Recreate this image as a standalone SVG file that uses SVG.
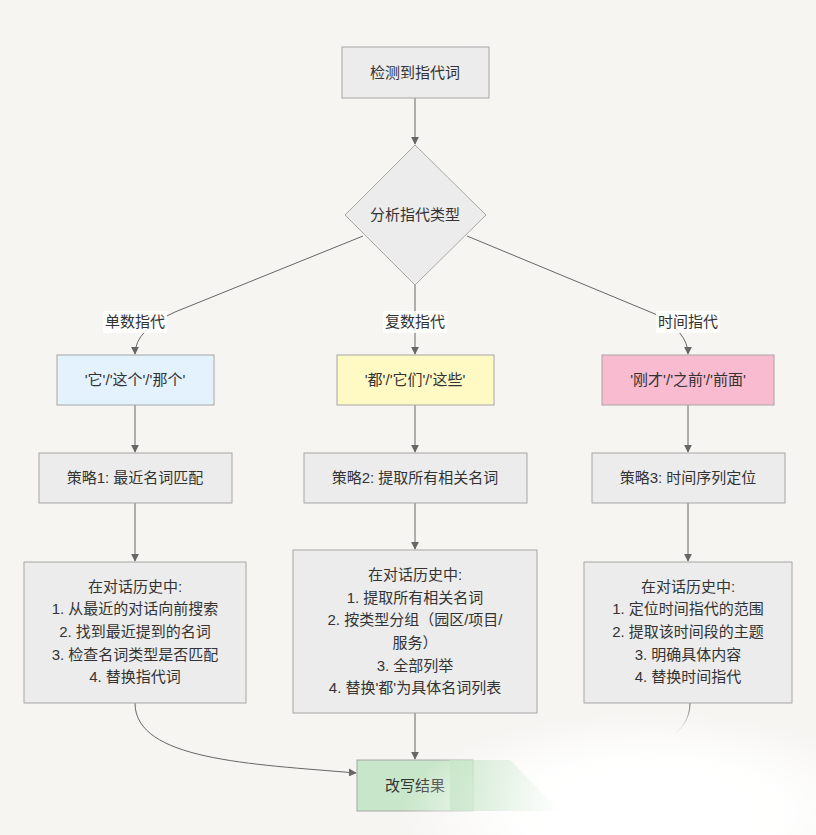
<svg xmlns="http://www.w3.org/2000/svg" width="816" height="835" viewBox="0 0 816 835">
<defs>
<marker id="arr" viewBox="0 0 10 10" refX="9" refY="5" markerWidth="8" markerHeight="8" orient="auto" markerUnits="userSpaceOnUse">
<path d="M0,0 L10,5 L0,10 z" fill="#666"/>
</marker>
<radialGradient id="fade" cx="0.5" cy="0.5" r="0.5">
<stop offset="0" stop-color="#ffffff" stop-opacity="1"/>
<stop offset="0.55" stop-color="#ffffff" stop-opacity="0.95"/>
<stop offset="1" stop-color="#ffffff" stop-opacity="0"/>
</radialGradient>
<linearGradient id="smear" x1="0" y1="0" x2="1" y2="0">
<stop offset="0" stop-color="#c8e6c9" stop-opacity="1"/>
<stop offset="1" stop-color="#c8e6c9" stop-opacity="0"/>
</linearGradient>
<linearGradient id="fadeline" gradientUnits="userSpaceOnUse" x1="0" y1="703" x2="0" y2="735">
<stop offset="0" stop-color="#666" stop-opacity="1"/>
<stop offset="1" stop-color="#666" stop-opacity="0"/>
</linearGradient>
</defs>
<style>
.bg{fill:#f6f5f2}
.node{stroke:#a6a6a6;stroke-width:1}
.gray{fill:#ececec}
.blue{fill:#e3f2fd}
.yellow{fill:#fff9c4}
.pink{fill:#f8bbd0}
.green{fill:#c8e6c9}
text{font-family:"Liberation Sans","Noto Sans CJK SC",sans-serif;font-size:15px;fill:#333;text-anchor:middle}
.edge{fill:none;stroke:#666;stroke-width:1}
.lblbg{fill:#ffffff;opacity:0.85}
</style>
<rect class="bg" x="0" y="0" width="816" height="835"/>
<g id="connectors">
<path class="edge" d="M415,98 L415,144" marker-end="url(#arr)"/>
<path class="edge" d="M363,236 L175,312 Q135,330 135,354" marker-end="url(#arr)"/>
<path class="edge" d="M415,285 L415,354" marker-end="url(#arr)"/>
<path class="edge" d="M467,236 L655,314 Q688,332 688,354" marker-end="url(#arr)"/>
<path class="edge" d="M135,405 L135,452" marker-end="url(#arr)"/>
<path class="edge" d="M415,405 L415,452" marker-end="url(#arr)"/>
<path class="edge" d="M688,405 L688,452" marker-end="url(#arr)"/>
<path class="edge" d="M135,503 L135,561" marker-end="url(#arr)"/>
<path class="edge" d="M415,503 L415,549" marker-end="url(#arr)"/>
<path class="edge" d="M688,503 L688,561" marker-end="url(#arr)"/>
<path class="edge" d="M135,703 C135,760 250,764 356,773" marker-end="url(#arr)"/>
<path class="edge" d="M415,713 L415,759" marker-end="url(#arr)"/>
<path class="edge" style="stroke:url(#fadeline)" d="M690,703 C690,760 580,764 474,773"/>
<g id="edge-labels">
<rect class="lblbg" x="103" y="311" width="64" height="22"/>
<text x="135" y="327">单数指代</text>
<rect class="lblbg" x="383" y="311" width="64" height="22"/>
<text x="415" y="327">复数指代</text>
<rect class="lblbg" x="656" y="311" width="64" height="22"/>
<text x="688" y="327">时间指代</text>
</g>
</g>
<g id="detect">
<rect class="node gray" x="342" y="47" width="147" height="51"/>
<text x="415" y="78">检测到指代词</text>
</g>
<g id="analyze">
<polygon class="node gray" points="415,145 486,215 415,285 345,215"/>
<text x="415" y="220">分析指代类型</text>
</g>
<g id="single">
<rect class="node blue" x="57" y="355" width="157" height="50"/>
<text x="135" y="385">'它'/'这个'/'那个'</text>
</g>
<g id="plural">
<rect class="node yellow" x="337" y="355" width="157" height="50"/>
<text x="415" y="385">'都'/'它们'/'这些'</text>
</g>
<g id="time">
<rect class="node pink" x="602" y="355" width="172" height="50"/>
<text x="688" y="385">'刚才'/'之前'/'前面'</text>
</g>
<g id="strategy1">
<rect class="node gray" x="39" y="453" width="193" height="50"/>
<text x="135" y="483">策略1: 最近名词匹配</text>
</g>
<g id="strategy2">
<rect class="node gray" x="304" y="453" width="223" height="50"/>
<text x="415" y="483">策略2: 提取所有相关名词</text>
</g>
<g id="strategy3">
<rect class="node gray" x="592" y="453" width="193" height="50"/>
<text x="688" y="483">策略3: 时间序列定位</text>
</g>
<g id="detail1">
<rect class="node gray" x="24" y="562" width="222" height="141"/>
<text x="135" y="592">在对话历史中:</text>
<text x="135" y="614">1. 从最近的对话向前搜索</text>
<text x="135" y="637">2. 找到最近提到的名词</text>
<text x="135" y="660">3. 检查名词类型是否匹配</text>
<text x="135" y="682">4. 替换指代词</text>
</g>
<g id="detail2">
<rect class="node gray" x="293" y="550" width="244" height="163"/>
<text x="415" y="580">在对话历史中:</text>
<text x="415" y="603">1. 提取所有相关名词</text>
<text x="415" y="625">2. 按类型分组（园区/项目/</text>
<text x="415" y="648">服务）</text>
<text x="415" y="671">3. 全部列举</text>
<text x="415" y="693">4. 替换'都'为具体名词列表</text>
</g>
<g id="detail3">
<rect class="node gray" x="584" y="562" width="208" height="141"/>
<text x="688" y="592">在对话历史中:</text>
<text x="688" y="614">1. 定位时间指代的范围</text>
<text x="688" y="637">2. 提取该时间段的主题</text>
<text x="688" y="660">3. 明确具体内容</text>
<text x="688" y="682">4. 替换时间指代</text>
</g>
<g id="result">
<rect class="node green" x="357" y="760" width="116" height="51"/>
<text x="415" y="791">改写结果</text>
</g>
<ellipse cx="650" cy="812" rx="250" ry="100" fill="url(#fade)"/>
<polygon points="450,760 510,760 560,811 450,811" fill="url(#smear)" opacity="0.8"/>
</svg>
